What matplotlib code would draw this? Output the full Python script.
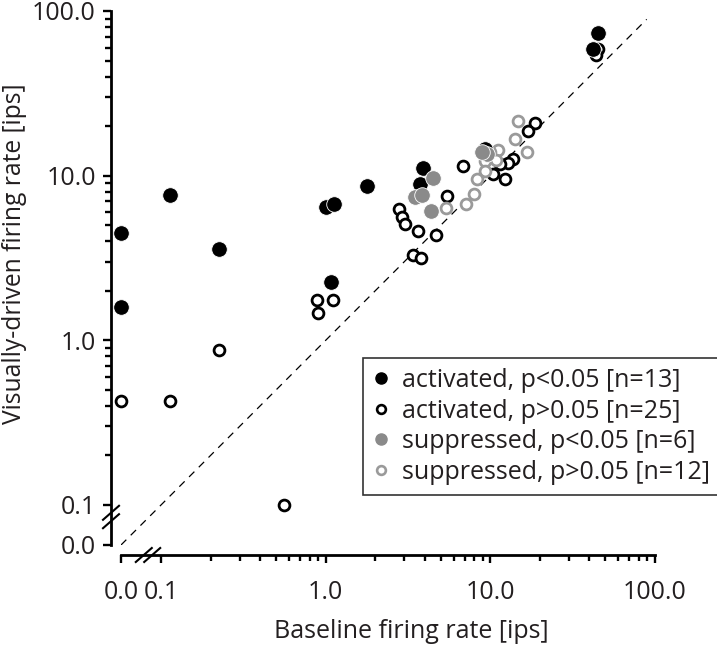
import numpy as np
import matplotlib
matplotlib.use("Agg")
import matplotlib.pyplot as plt
from matplotlib.lines import Line2D
import matplotlib.transforms as mtransforms

# ---------------- data ----------------
act_sig_x = [0, 0, 0.113, 0.224, 1.00, 1.12, 1.07, 1.77, 3.89, 3.73, 9.26, 45.0, 42.0]
act_sig_y = [4.49, 1.59, 7.66, 3.59, 6.47, 6.75, 2.26, 8.7, 11.2, 8.94, 14.6, 73.5, 58.7]

act_ns_x = [0.88, 0.894, 1.10, 0, 0.113, 0.224, 0.555, 2.78, 2.90, 3.02, 3.63, 4.66,
            3.38, 3.78, 5.44, 6.81, 45.0, 43.8, 18.6, 16.9, 13.7, 12.8, 11.4, 10.35, 12.3]
act_ns_y = [1.75, 1.46, 1.75, 0.43, 0.43, 0.87, 0.1, 6.28, 5.62, 5.10, 4.62, 4.37,
            3.30, 3.16, 7.55, 11.4, 58.7, 53.9, 20.8, 18.6, 12.7, 12.0, 11.7, 10.3, 9.6]

sup_sig_x = [4.47, 3.47, 3.83, 4.35, 9.52, 8.89]
sup_sig_y = [9.72, 7.43, 7.66, 6.12, 13.6, 14.0]

sup_ns_x = [14.7, 14.1, 16.6, 11.1, 9.26, 9.26, 8.29, 7.93, 7.09, 5.36, 9.93, 10.8]
sup_ns_y = [21.4, 16.8, 14.0, 14.4, 12.2, 10.6, 9.6, 7.77, 6.75, 6.38, 14.0, 12.5]

labels = ["activated, p<0.05 [n=13]", "activated, p>0.05 [n=25]",
          "suppressed, p<0.05 [n=6]", "suppressed, p>0.05 [n=12]"]

major_ticks = [0, 0.1, 1, 10, 100]
major_labels = ["0.0", "0.1", "1.0", "10.0", "100.0"]
minor_ticks = [m * d for d in (0.1, 1, 10) for m in range(2, 10)]
diag_range = [0, 89]

# ---------------- style ----------------
plt.rcParams['font.family'] = ['Open Sans', 'DejaVu Sans']
GREY = "#8a8a8a"
GREY_OPEN = "#9a9a9a"
TXT = "#231f20"
FS = 18

# broken log scale: zero is shown ~0.24 decade below 0.1
ZERO_POS = -1.0 - 40 / 164.5


def fwd(v):
    v = np.asarray(v, dtype=float)
    safe = np.where(v > 0, v, 1.0)
    return np.where(v > 0, np.log10(safe), ZERO_POS)


def inv(u):
    return np.power(10.0, np.asarray(u, dtype=float))


fig = plt.figure(figsize=(7.17, 6.52), dpi=100)
ax = fig.add_axes([121 / 717, 1 - 545 / 652, (655 - 121) / 717, (545 - 11) / 652])
ax.set_xscale('function', functions=(fwd, inv))
ax.set_yscale('function', functions=(fwd, inv))
ax.set_xlim(0, 100)
ax.set_ylim(0, 100)

# diagonal
ax.plot(diag_range, diag_range, color='black', lw=0.9, ls=(0, (6, 5)), zorder=1)

ms_fill = 11.2
ms_open = 7.8
mew_open = 2.0
ax.plot(act_ns_x, act_ns_y, 'o', ls='none', mfc='white', mec='black', ms=ms_open,
        mew=mew_open, clip_on=False, zorder=2)
ax.plot(sup_ns_x, sup_ns_y, 'o', ls='none', mfc='white', mec=GREY_OPEN, ms=ms_open,
        mew=mew_open, clip_on=False, zorder=3)
ax.plot(act_sig_x, act_sig_y, 'o', ls='none', mfc='black', mec='white', ms=ms_fill,
        mew=0.6, clip_on=False, zorder=4)
ax.plot(sup_sig_x, sup_sig_y, 'o', ls='none', mfc=GREY, mec='white', ms=ms_fill,
        mew=0.6, clip_on=False, zorder=5)

# axes styling
for s in ('top', 'right'):
    ax.spines[s].set_visible(False)
for s in ('left', 'bottom'):
    ax.spines[s].set_position(('outward', 7.2))
    ax.spines[s].set_linewidth(2.0)

for axis in (ax.xaxis, ax.yaxis):
    axis.set_major_locator(matplotlib.ticker.FixedLocator(major_ticks))
    axis.set_major_formatter(matplotlib.ticker.FixedFormatter(major_labels))
    axis.set_minor_locator(matplotlib.ticker.FixedLocator(minor_ticks))
    axis.set_minor_formatter(matplotlib.ticker.NullFormatter())

ax.tick_params(which='major', direction='out', length=6, width=1.7, labelsize=FS,
               color='black', labelcolor=TXT)
ax.tick_params(which='minor', direction='out', length=4, width=1.7, color='black')
ax.tick_params(axis='x', which='major', pad=12)
ax.tick_params(axis='y', which='major', pad=5)

# break marks
off = 7.2 / 72
ty = ax.transAxes + mtransforms.ScaledTranslation(-off, 0, fig.dpi_scale_trans)
tx = ax.transAxes + mtransforms.ScaledTranslation(0, -off, fig.dpi_scale_trans)
yb = (545 - 517) / 534
xb = (148 - 121) / 534
dx = 8 / 534
dy = 7 / 534
sep = 3 / 534
for k in (-1, 1):
    ax.add_line(Line2D([-dx, dx], [yb - dy + k * sep * 1.4, yb + dy + k * sep * 1.4],
                       transform=ty, color='black', lw=1.5, clip_on=False))
    ax.add_line(Line2D([xb - dx + k * sep * 1.4, xb + dx + k * sep * 1.4], [-dy, dy],
                       transform=tx, color='black', lw=1.5, clip_on=False))

# axis labels
fig.text(15 / 717, 1 - 254 / 652, "Visually-driven firing rate [ips]", rotation=90,
         ha='center', va='center', fontsize=17.7, color=TXT)
fig.text(411 / 717, 1 - 632 / 652, "Baseline firing rate [ips]",
         ha='center', va='center', fontsize=FS, color=TXT)

# legend
handles = [
    Line2D([], [], marker='o', ls='none', mfc='black', mec='black', ms=8),
    Line2D([], [], marker='o', ls='none', mfc='white', mec='black', ms=6.3, mew=1.9),
    Line2D([], [], marker='o', ls='none', mfc=GREY, mec=GREY, ms=8),
    Line2D([], [], marker='o', ls='none', mfc='white', mec=GREY_OPEN, ms=6.3, mew=1.9),
]
leg = fig.legend(handles, labels, loc='upper left',
                 bbox_to_anchor=(363 / 717, 1 - 358 / 652), bbox_transform=fig.transFigure,
                 fontsize=FS, frameon=True, fancybox=False, borderpad=0.4,
                 labelspacing=0.22, handlelength=0.6, handletextpad=0.55, borderaxespad=0)
leg.get_frame().set_edgecolor('black')
leg.get_frame().set_linewidth(1.2)
for t in leg.get_texts():
    t.set_color(TXT)

fig.savefig("out.png", dpi=100)
